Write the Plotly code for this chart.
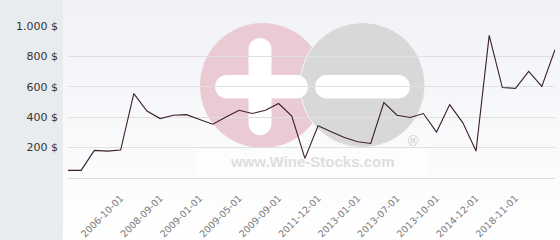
import base64
import plotly.graph_objects as go

# ---- data ----
prices = [50, 50, 182, 177, 184, 555, 441, 391, 413, 417, 385, 354, 402,
          446, 424, 446, 490, 407, 129, 343, 304, 267, 238, 227, 496,
          413, 398, 424, 302, 483, 363, 177, 938, 595, 590, 702, 603, 844]
tick_labels = ["2006-10-01", "2008-09-01", "2009-01-01", "2009-05-01",
               "2009-09-01", "2011-12-01", "2013-01-01", "2013-07-01",
               "2013-10-01", "2014-12-01", "2018-11-01"]
first_labelled = 4
label_step = 3
y_ticks = [200, 400, 600, 800, 1000]
y_tick_text = ["200 $", "400 $", "600 $", "800 $", "1.000 $"]

x_index = list(range(len(prices)))
tick_positions = list(range(first_labelled, len(prices), label_step))[:len(tick_labels)]

W, H = 560, 240
L, R, T, B = 68, 5, 26, 62
PW, PH = W - L - R, H - T - B


def px(x):
    return (x - L) / PW


def py(y):
    return (H - B - y) / PH


# background picture: grey side panel, soft vertical gradient and the logo watermark
pink, grey = "#ebcbd3", "#d8d8d9"
svg = f'''<svg xmlns="http://www.w3.org/2000/svg" width="{W}" height="{H}" viewBox="0 0 {W} {H}" preserveAspectRatio="none">
<defs><linearGradient id="g" x1="0" y1="0" x2="0" y2="1">
<stop offset="0" stop-color="#f1f2f7"/><stop offset="1" stop-color="#ffffff"/></linearGradient></defs>
<rect x="0" y="0" width="{W}" height="{H}" fill="url(#g)"/>
<rect x="0" y="0" width="63" height="{H}" fill="#e8ecee"/>
<rect x="197" y="149" width="231" height="27" fill="#ffffff" fill-opacity="0.55"/>
<circle cx="262.5" cy="85.5" r="62.5" fill="{pink}"/>
<circle cx="362.5" cy="85" r="62.5" fill="{grey}" stroke="#f6f6f8" stroke-width="1"/>
<rect x="215" y="75" width="93" height="23.5" rx="11.75" fill="#ffffff"/>
<rect x="248.5" y="38" width="23" height="97" rx="11.5" fill="#ffffff"/>
<rect x="315" y="75" width="95" height="23.5" rx="11.75" fill="#ffffff"/>
</svg>'''
bg_src = "data:image/svg+xml;base64," + base64.b64encode(svg.encode()).decode()

fig = go.Figure()
fig.add_trace(go.Scatter(x=x_index, y=prices, mode="lines",
                         line=dict(color="#3b1e2b", width=1.1),
                         hoverinfo="y", showlegend=False))

annotations = [
    dict(text="<b>www.Wine-Stocks.com</b>", xref="paper", yref="paper",
         x=px(312), y=py(161), xanchor="center", yanchor="middle", showarrow=False,
         font=dict(family="Liberation Sans, Arial", size=15, color="#dedede")),
    dict(text="®", xref="paper", yref="paper", x=px(413), y=py(141),
         xanchor="center", yanchor="middle",
         showarrow=False, font=dict(family="DejaVu Sans", size=14, color="#d0d0d0")),
]

fig.update_layout(
    width=W, height=H,
    margin=dict(l=L, r=R, t=T, b=B, pad=0, autoexpand=False),
    paper_bgcolor="#ffffff",
    plot_bgcolor="rgba(0,0,0,0)",
    images=[dict(source=bg_src, xref="paper", yref="paper",
                 x=px(0), y=py(0), sizex=W / PW, sizey=H / PH,
                 xanchor="left", yanchor="top", sizing="stretch", layer="below")],
    annotations=annotations,
    font=dict(family="DejaVu Sans", size=11, color="#333333"),
    xaxis=dict(range=[0, len(prices) - 1], tickmode="array",
               tickvals=tick_positions, ticktext=tick_labels,
               tickangle=-45, showgrid=False, zeroline=False,
               showline=True, linecolor="#dcdcdc", linewidth=1,
               ticks="", tickfont=dict(size=9.5, color="#7a7a7a"),
               ticklabelstandoff=10, automargin=False),
    yaxis=dict(range=[0, 1000], tickmode="array", tickvals=y_ticks,
               ticktext=y_tick_text, showgrid=True, gridcolor="#e0e0e0",
               gridwidth=1, zeroline=False, showline=False, ticks="",
               tickfont=dict(size=11, color="#333333"),
               ticklabelstandoff=9, automargin=False),
    showlegend=False,
)

fig.write_html("out.html")
